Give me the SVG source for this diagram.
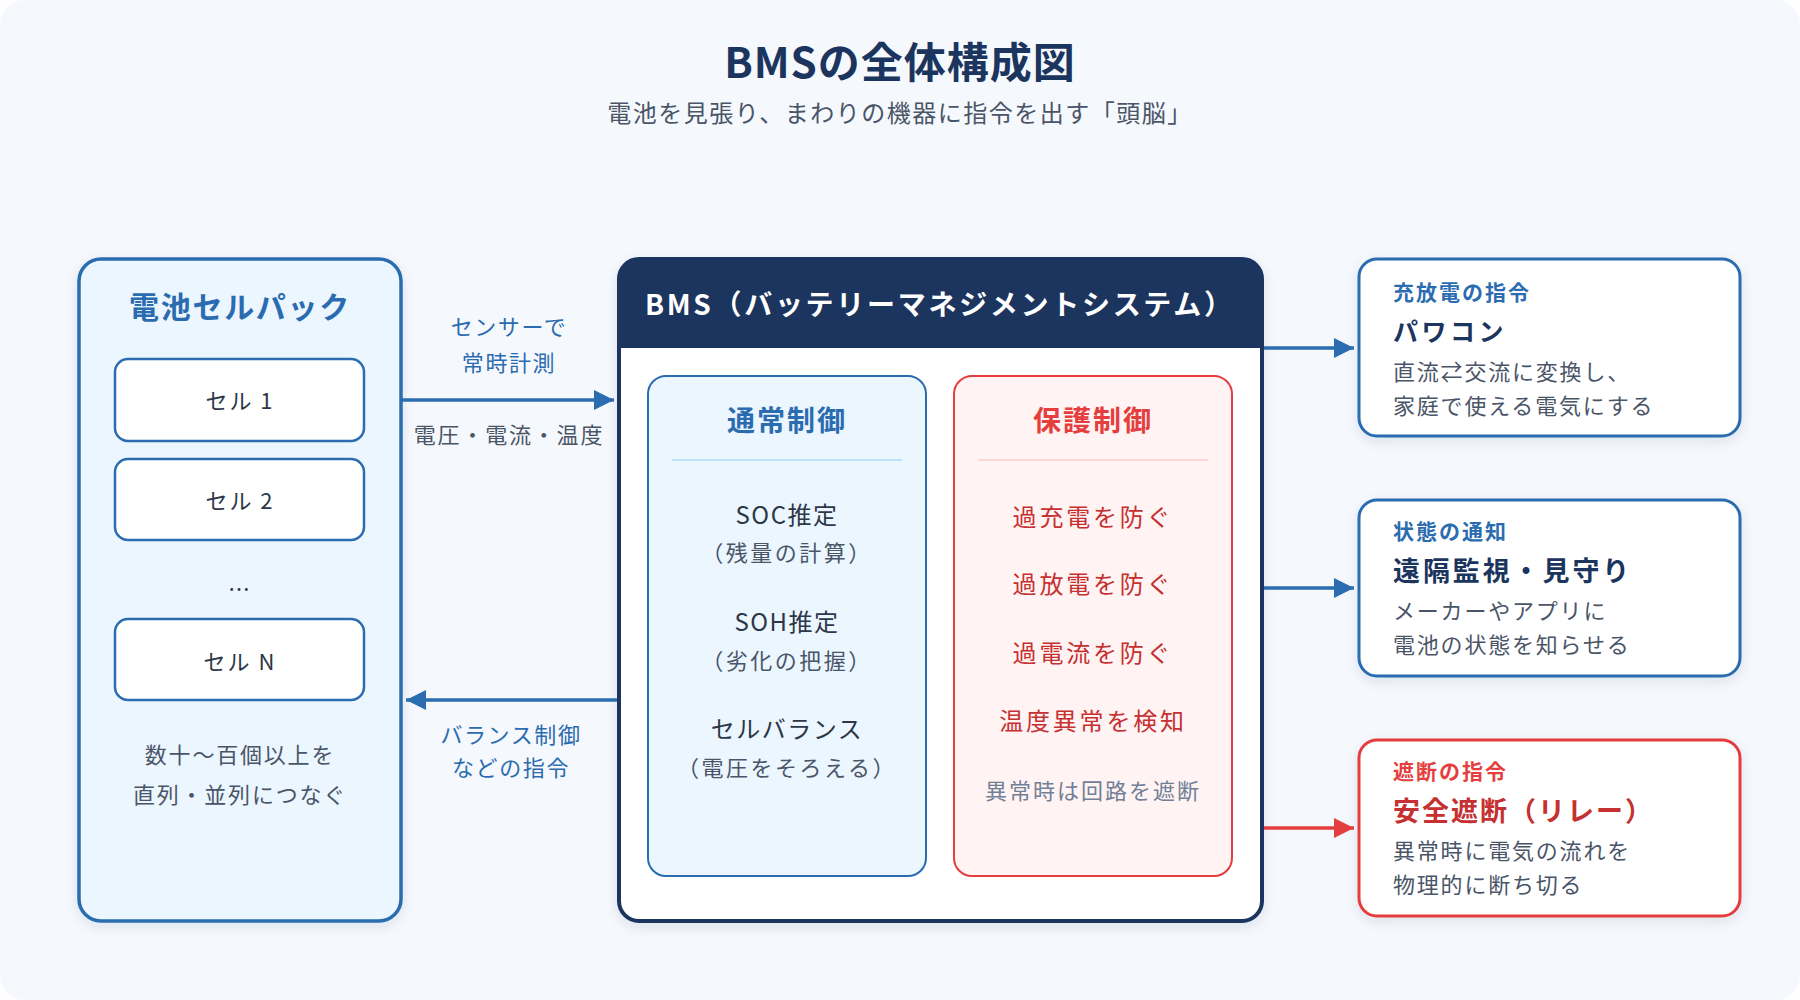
<svg xmlns="http://www.w3.org/2000/svg" width="1800" height="1000" viewBox="0 0 1800 1000">
<defs>
<style>
text{font-family:"Noto Sans CJK JP","Noto Sans",sans-serif;dominant-baseline:central;transform:translateY(-2.5px)}
.c{text-anchor:middle}
.title{font-size:42px;font-weight:700;fill:#1c355e;letter-spacing:1px}
.sub{font-size:24px;fill:#4a5568;letter-spacing:1.5px}
.packT{font-size:30px;font-weight:700;fill:#2b6cb0;letter-spacing:1.7px}
.cell{fill:#fff;stroke:#2b6cb0;stroke-width:2.5}
.cellT{font-size:22px;fill:#2d3748;letter-spacing:2px}
.body{font-size:22px;fill:#4a5568;letter-spacing:1.8px}
.lblB{font-size:22px;fill:#2b6cb0;letter-spacing:1.6px}
.hdr{font-size:28px;font-weight:700;fill:#fff;letter-spacing:2.7px}
.secB{font-size:28px;font-weight:700;fill:#2b6cb0;letter-spacing:2px}
.secR{font-size:28px;font-weight:700;fill:#e53e3e;letter-spacing:2px}
.item{font-size:24px;fill:#2d3748;letter-spacing:1.5px}
.itemS{font-size:22px;fill:#4a5568;letter-spacing:2.5px}
.prot{font-size:24px;fill:#c53030;letter-spacing:2.8px}
.protS{font-size:22px;fill:#718096;letter-spacing:2px}
.kB{font-size:21px;font-weight:700;fill:#2b6cb0;letter-spacing:2px}
.kR{font-size:21px;font-weight:700;fill:#e53e3e;letter-spacing:2px}
.hN{font-size:25px;font-weight:700;fill:#1c355e;letter-spacing:3.5px}
.hN2{font-size:27px;font-weight:700;fill:#1c355e;letter-spacing:2.9px}
.hR{font-size:27px;font-weight:700;fill:#c53030;letter-spacing:2px}
.card{fill:#fff;stroke-width:3}
.line{stroke-width:3.5;fill:none}
</style>
<filter id="sh" x="-10%" y="-10%" width="120%" height="130%">
<feDropShadow dx="0" dy="4" stdDeviation="6" flood-color="#1c355e" flood-opacity="0.10"/>
</filter>
<marker id="ab" markerUnits="userSpaceOnUse" markerWidth="20" markerHeight="20" refX="20" refY="10" orient="auto">
<path d="M0,0 L20,10 L0,20 z" fill="#2b6cb0"/>
</marker>
<marker id="ar" markerUnits="userSpaceOnUse" markerWidth="20" markerHeight="20" refX="20" refY="10" orient="auto">
<path d="M0,0 L20,10 L0,20 z" fill="#e53e3e"/>
</marker>
</defs>
<rect x="0" y="0" width="1800" height="1000" fill="#ffffff"/>
<rect x="0" y="0" width="1800" height="1000" rx="24" fill="#f5f8fc"/>

<g id="title">
<text class="title c" x="900" y="62">BMSの全体構成図</text>
<text class="sub c" x="900" y="114">電池を見張り、まわりの機器に指令を出す「頭脳」</text>
</g>

<g id="pack">
<rect x="79" y="259" width="322" height="662" rx="22" fill="#ebf6ff" stroke="#2b6cb0" stroke-width="3.5" filter="url(#sh)"/>
<text class="packT c" x="240" y="307">電池セルパック</text>
<g id="cell1"><rect class="cell" x="115" y="359" width="249" height="82" rx="13"/><text class="cellT c" x="240" y="401">セル 1</text></g>
<g id="cell2"><rect class="cell" x="115" y="459" width="249" height="81" rx="13"/><text class="cellT c" x="240" y="501">セル 2</text></g>
<text class="cellT c" x="240" y="589">…</text>
<g id="cellN"><rect class="cell" x="115" y="619" width="249" height="81" rx="13"/><text class="cellT c" x="240" y="662">セル N</text></g>
<text class="body c" x="240" y="755">数十〜百個以上を</text>
<text class="body c" x="240" y="795">直列・並列につなぐ</text>
</g>

<g id="bms">
<rect x="619" y="259" width="643" height="662" rx="20" fill="#fff" stroke="#1c355e" stroke-width="4" filter="url(#sh)"/>
<path d="M619,348 L619,279 Q619,259 639,259 L1242,259 Q1262,259 1262,279 L1262,348 Z" fill="#1c355e"/>
<text class="hdr" x="645" y="305">BMS（バッテリーマネジメントシステム）</text>
<g id="normal">
<rect x="648" y="376" width="278" height="500" rx="18" fill="#ebf6ff" stroke="#2b6cb0" stroke-width="2"/>
<text class="secB c" x="787" y="421">通常制御</text>
<line x1="672" y1="460" x2="902" y2="460" stroke="#bee3f8" stroke-width="2"/>
<text class="item c" x="787" y="516">SOC推定</text>
<text class="itemS c" x="787" y="553">（残量の計算）</text>
<text class="item c" x="787" y="623">SOH推定</text>
<text class="itemS c" x="787" y="661">（劣化の把握）</text>
<text class="item c" x="787" y="730">セルバランス</text>
<text class="itemS c" x="787" y="768">（電圧をそろえる）</text>
</g>
<g id="protect">
<rect x="954" y="376" width="278" height="500" rx="18" fill="#fff3f3" stroke="#e53e3e" stroke-width="2"/>
<text class="secR c" x="1093" y="421">保護制御</text>
<line x1="978" y1="460" x2="1208" y2="460" stroke="#fed7d7" stroke-width="2"/>
<text class="prot c" x="1093" y="518">過充電を防ぐ</text>
<text class="prot c" x="1093" y="585">過放電を防ぐ</text>
<text class="prot c" x="1093" y="654">過電流を防ぐ</text>
<text class="prot c" x="1093" y="722">温度異常を検知</text>
<text class="protS c" x="1093" y="791">異常時は回路を遮断</text>
</g>
</g>

<g id="out1">
<rect class="card" x="1359" y="259" width="381" height="177" rx="18" stroke="#2b6cb0" filter="url(#sh)"/>
<text class="kB" x="1393" y="293">充放電の指令</text>
<text class="hN" x="1393" y="332">パワコン</text>
<text class="body" x="1393" y="372">直流⇄交流に変換し、</text>
<text class="body" x="1393" y="406">家庭で使える電気にする</text>
</g>
<g id="out2">
<rect class="card" x="1359" y="500" width="381" height="176" rx="18" stroke="#2b6cb0" filter="url(#sh)"/>
<text class="kB" x="1393" y="532">状態の通知</text>
<text class="hN2" x="1393" y="572">遠隔監視・見守り</text>
<text class="body" x="1393" y="611">メーカーやアプリに</text>
<text class="body" x="1393" y="645">電池の状態を知らせる</text>
</g>
<g id="out3">
<rect class="card" x="1359" y="740" width="381" height="176" rx="18" stroke="#e53e3e" filter="url(#sh)"/>
<text class="kR" x="1393" y="772">遮断の指令</text>
<text class="hR" x="1393" y="812">安全遮断（リレー）</text>
<text class="body" x="1393" y="851">異常時に電気の流れを</text>
<text class="body" x="1393" y="885">物理的に断ち切る</text>
</g>

<g id="connectors">
<line class="line" x1="401" y1="400" x2="614" y2="400" stroke="#2b6cb0" marker-end="url(#ab)"/>
<text class="lblB c" x="509" y="327">センサーで</text>
<text class="lblB c" x="509" y="363">常時計測</text>
<text class="body c" x="509" y="435">電圧・電流・温度</text>
<line class="line" x1="617" y1="700" x2="406" y2="700" stroke="#2b6cb0" marker-end="url(#ab)"/>
<text class="lblB c" x="511" y="735">バランス制御</text>
<text class="lblB c" x="511" y="768">などの指令</text>
<line class="line" x1="1264" y1="348" x2="1354" y2="348" stroke="#2b6cb0" marker-end="url(#ab)"/>
<line class="line" x1="1264" y1="588" x2="1354" y2="588" stroke="#2b6cb0" marker-end="url(#ab)"/>
<line class="line" x1="1264" y1="828" x2="1354" y2="828" stroke="#e53e3e" marker-end="url(#ar)"/>
</g>
</svg>
